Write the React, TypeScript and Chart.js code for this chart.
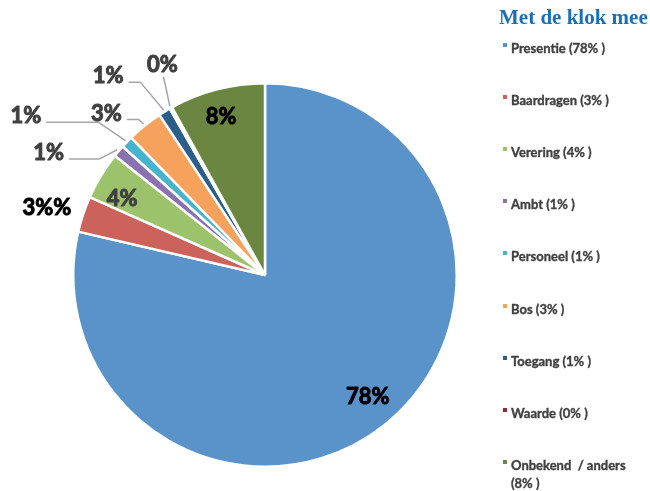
import React, { useEffect, useRef } from "react";
import { Chart, registerables } from "chart.js";

Chart.register(...registerables);

const categories = ["Presentie", "Baardragen", "Verering", "Ambt", "Personeel", "Bos", "Toegang", "Waarde", "Onbekend  / anders"];
const values = [78, 3, 4, 1, 1, 3, 1, 0.2, 8];
const pctLabels = ["78%", "3%%", "4%", "1%", "1%", "3%", "1%", "0%", "8%"];
const legendPct = ["78%", "3%", "4%", "1%", "1%", "3%", "1%", "0%", "8%"];
const colors = ["#5a93c9", "#cb635c", "#9cc26b", "#8a72b0", "#46b4cd", "#f6a25c", "#2b5f8a", "#8e2c2c", "#6a8641"];
const titleText = "Met de klok mee";

// label placement: angle in degrees clockwise from top, radius factor, leader style
type Place = { a: number; f: number; color: string; line?: "elbow" | "vertical"; elbow?: number };
const placements: Place[] = [
  { a: 139.8, f: 0.83, color: "#000000" },
  { a: 287, f: 1.19, color: "#000000" },
  { a: 298.1, f: 0.845, color: "#404040" },
  { a: 299.4, f: 1.295, color: "#404040", line: "elbow", elbow: 30 },
  { a: 303.6, f: 1.497, color: "#404040", line: "elbow", elbow: 52 },
  { a: 315.5, f: 1.18, color: "#404040", line: "elbow", elbow: 12 },
  { a: 321.7, f: 1.32, color: "#404040", line: "elbow", elbow: 12 },
  { a: 334, f: 1.22, color: "#404040", line: "vertical" },
  { a: 344.5, f: 0.855, color: "#000000" },
];

const labelPlugin = {
  id: "pieLabels",
  afterDatasetsDraw(chart: any) {
    const meta = chart.getDatasetMeta(0);
    const ctx = chart.ctx as CanvasRenderingContext2D;
    ctx.save();
    ctx.font = "bold 22px Lato, 'Open Sans', sans-serif";
    ctx.textAlign = "center";
    ctx.textBaseline = "middle";
    meta.data.forEach((arc: any, i: number) => {
      const p = placements[i];
      const cx = arc.x;
      const cy = arc.y;
      const R = arc.outerRadius;
      const rad = ((p.a - 90) * Math.PI) / 180;
      const lx = cx + Math.cos(rad) * R * p.f;
      const ly = cy + Math.sin(rad) * R * p.f;
      const mid = (arc.startAngle + arc.endAngle) / 2;
      const ax = cx + Math.cos(mid) * (R + 2);
      const ay = cy + Math.sin(mid) * (R + 2);
      const w = ctx.measureText(pctLabels[i]).width;
      if (p.line) {
        ctx.strokeStyle = "#a6a6a6";
        ctx.lineWidth = 1.5;
        ctx.beginPath();
        if (p.line === "elbow") {
          const sx = lx + w / 2 + 5;
          const sy = ly + 6;
          ctx.moveTo(sx, sy);
          ctx.lineTo(sx + (p.elbow || 10), sy);
          ctx.lineTo(ax, ay);
        } else {
          ctx.moveTo(lx + 1, ly + 12);
          ctx.lineTo(ax, ay);
        }
        ctx.stroke();
      }
      ctx.fillStyle = p.color;
      ctx.strokeStyle = p.color;
      ctx.lineWidth = 1;
      ctx.lineJoin = "round";
      ctx.strokeText(pctLabels[i], lx, ly);
      ctx.fillText(pctLabels[i], lx, ly);
    });
    ctx.restore();
  },
};

export default function App() {
  const ref = useRef<HTMLCanvasElement | null>(null);
  useEffect(() => {
    document.body.style.margin = "0";
    if (!ref.current) return;
    const chart = new Chart(ref.current, {
      type: "pie",
      data: {
        labels: categories,
        datasets: [
          {
            data: values,
            backgroundColor: colors,
            borderColor: "#ffffff",
            borderWidth: 2.5,
          },
        ],
      },
      options: {
        responsive: false,
        animation: false,
        layout: { padding: { left: 71, right: 191, top: 82, bottom: 23 } },
        plugins: { legend: { display: false }, tooltip: { enabled: false } },
      },
      plugins: [labelPlugin],
    });
    return () => chart.destroy();
  }, []);

  return (
    <div style={{ position: "relative", width: 650, height: 491, background: "#fff", overflow: "hidden" }}>
      <canvas ref={ref} width={650} height={491} style={{ position: "absolute", left: 0, top: 0 }} />
      <div
        style={{
          position: "absolute",
          left: 499,
          top: 5,
          font: "bold 21px 'Liberation Serif', serif",
          color: "#1c6fb6",
          whiteSpace: "nowrap",
        }}
      >
        {titleText}
      </div>
      {categories.map((c, i) => (
        <div
          key={c}
          style={{
            position: "absolute",
            left: 503,
            top: 39 + i * 52.1,
            width: 145,
            font: "bold 13px Lato, sans-serif",
            color: "#404040",
            lineHeight: "18px",
            display: "flex",
            WebkitTextStroke: "0.35px #404040",
          }}
        >
          <span style={{ display: "inline-block", width: 4, height: 4, background: colors[i], marginTop: 4, marginRight: 4, flex: "none" }} />
          <span style={{ whiteSpace: "pre-wrap", maxWidth: 132 }}>{c} ({legendPct[i]} )</span>
        </div>
      ))}
    </div>
  );
}
